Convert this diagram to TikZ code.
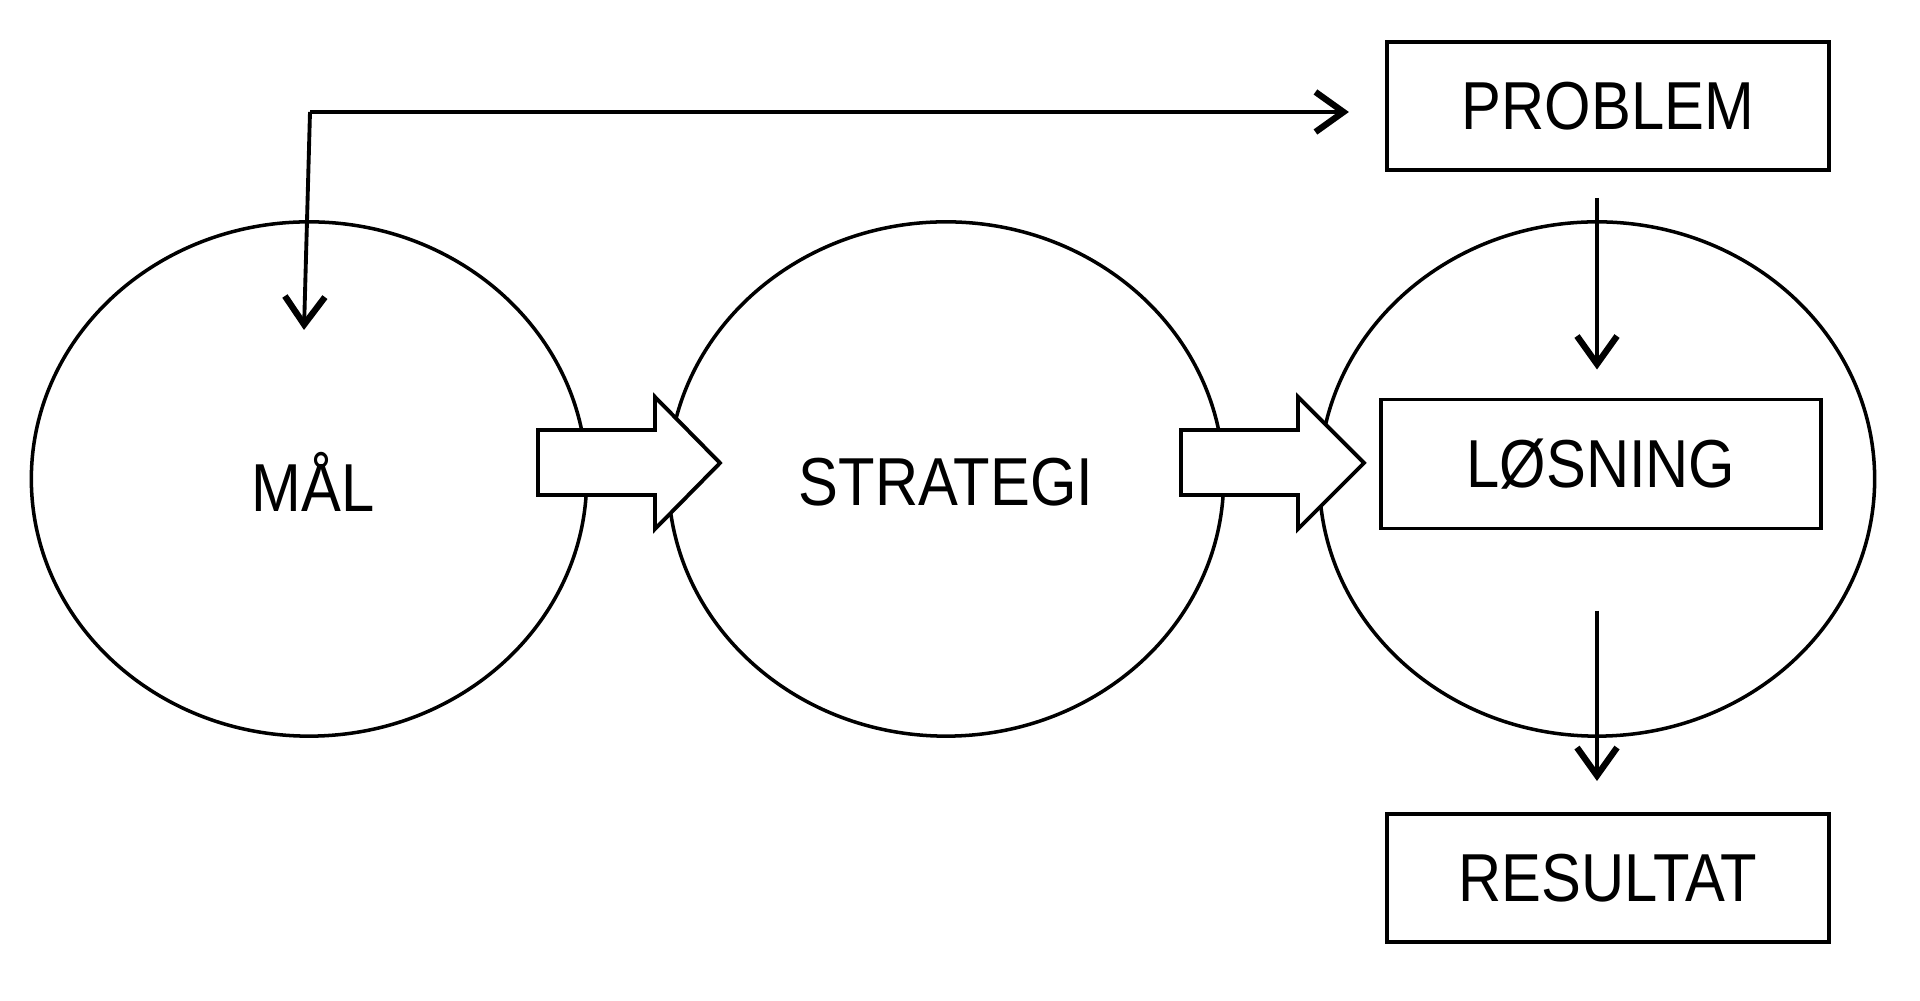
\documentclass[tikz,border=0pt]{standalone}
\usepackage{fontspec}
\setmainfont{Liberation Sans}[FakeStretch=0.88]
\usetikzlibrary{arrows.meta,shapes.geometric}
\tikzset{
  oval/.style={draw, line width=1pt, ellipse, minimum width=5.55cm, minimum height=5.14cm, inner sep=0pt},
  tekstboks/.style={draw, line width=1.1pt, minimum width=4.42cm, minimum height=1.28cm, inner sep=0pt},
  pil/.style={-{Straight Barb[length=2.8mm,width=4mm,line width=1.8pt]}, line width=1.1pt},
  blokkpil/.style={draw, fill=white, line width=1.1pt, line join=miter}
}
\begin{document}
\begin{tikzpicture}[x=0.01cm, y=-0.01cm, font=\fontsize{19.3}{23}\selectfont]
	\useasboundingbox (0,0) rectangle (1920,1001);
	% sirkler
	\node[oval] (maal) at (309,479) {};
	\node[oval] (strategi) at (946,479) {};
	\node[oval] (losning-oval) at (1597,479) {};
	\node at (313,482) {MÅL};
	\node at (946,482) {STRATEGI};
	% bokser
	\node[tekstboks] (problem) at (1608,106) {PROBLEM};
	\node[tekstboks, minimum width=4.40cm, minimum height=1.29cm] (losning) at (1601,464) {LØSNING};
	\node[tekstboks] (resultat) at (1608,878) {RESULTAT};
	% blokkpiler
	\draw[blokkpil] (538,430) -- (655,430) -- (655,397) -- (720,463) -- (655,529) -- (655,495) -- (538,495) -- cycle;
	\draw[blokkpil] (1181,430) -- (1298,430) -- (1298,397) -- (1364,463) -- (1298,529) -- (1298,495) -- (1181,495) -- cycle;
	% piler
	\coordinate (hjorne) at (310,112);
	\coordinate (maalpil) at (304,330);
	\coordinate (pilx) at (1597,0);
	\draw[pil, shorten >=3.6mm] (hjorne) -- (hjorne -| problem.west);
	\draw[pil] (hjorne) -- (maalpil);
	\draw[pil, shorten <=2.6mm, shorten >=2.8mm] (problem.south -| pilx) -- (losning.north -| pilx);
	\draw[pil, shorten <=8mm, shorten >=3.1mm] (losning.south -| pilx) -- (resultat.north -| pilx);
\end{tikzpicture}
\end{document}
